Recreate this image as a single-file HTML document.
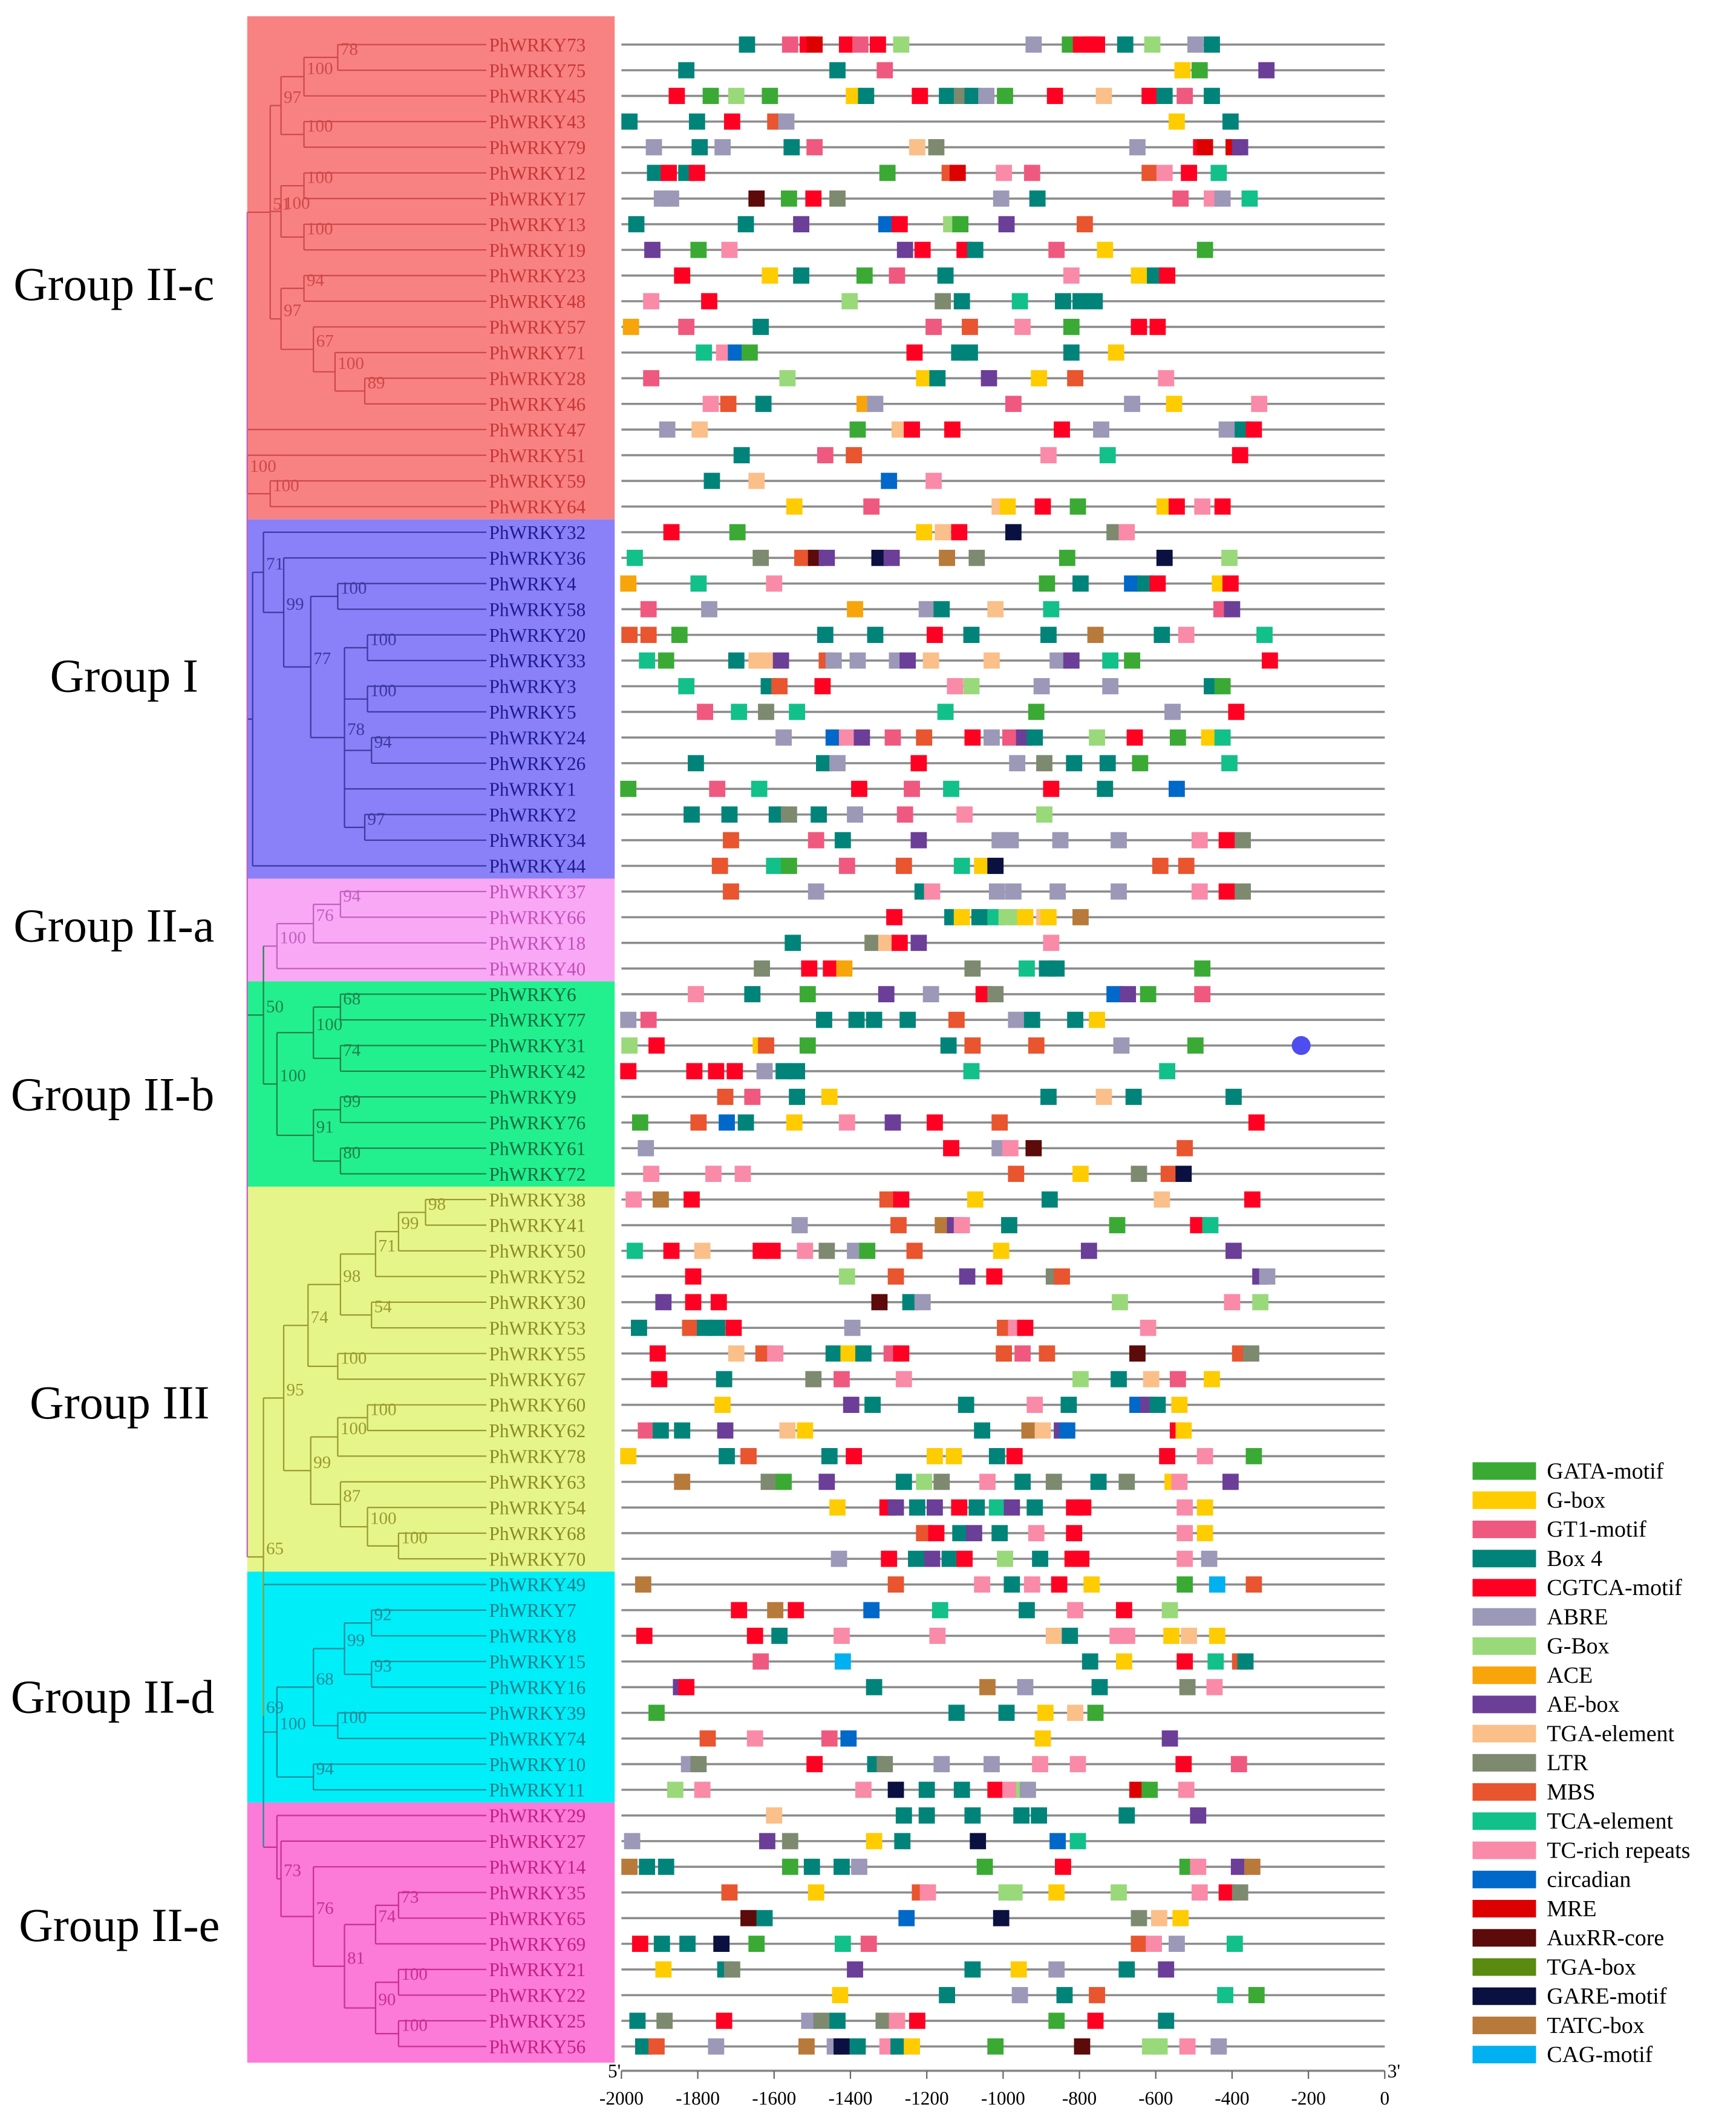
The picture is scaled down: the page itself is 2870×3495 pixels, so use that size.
<!DOCTYPE html>
<html><head><meta charset="utf-8">
<style>
html,body{margin:0;padding:0;background:#fff;}
svg{display:block;font-family:"Liberation Serif",serif;}
</style></head>
<body>
<svg id="chart" xmlns="http://www.w3.org/2000/svg" width="2870" height="3495" viewBox="0 0 1285 1565" preserveAspectRatio="none">
<g id="bands"></g>
<g id="tree"></g>
<g id="rows"></g>
<g id="axis"></g>
<g id="legend"></g>
</svg>
<script>
const genes=["73","75","45","43","79","12","17","13","19","23","48","57","71","28","46","47","51","59","64",
"32","36","4","58","20","33","3","5","24","26","1","2","34","44",
"37","66","18","40",
"6","77","31","42","9","76","61","72",
"38","41","50","52","30","53","55","67","60","62","78","63","54","68","70",
"49","7","8","15","16","39","74","10","11",
"29","27","14","35","65","69","21","22","25","56"];
const groupNames=["Group II-c","Group I","Group II-a","Group II-b","Group III","Group II-d","Group II-e"];
const groupStart=[0,19,33,37,45,60,69];
const groupEnd=[18,32,36,44,59,68,78];
const motifNames=["GATA-motif","G-box","GT1-motif","Box 4","CGTCA-motif","ABRE","G-Box","ACE","AE-box","TGA-element","LTR","MBS","TCA-element","TC-rich repeats","circadian","MRE","AuxRR-core","TGA-box","GARE-motif","TATC-box","CAG-motif"];
const motifCodes=["GA","Gb","GT","B4","CG","AB","GB","AC","AE","TG","LT","MB","TC","TR","CI","MR","AU","TX","GR","TA","CA"];
const axisTicks=[-2000,-1800,-1600,-1400,-1200,-1000,-800,-600,-400,-200,0];
const motifs=[
[["B4",-1671],["GT",-1558],["CG",-1512],["MR",-1494],["CG",-1409],["GT",-1374],["CG",-1328],["GB",-1267],["AB",-920],["GA",-825],["CG",-796],["CG",-770],["CG",-754],["B4",-680],["GB",-609],["AB",-496],["B4",-453]],
[["B4",-1830],["B4",-1434],["GT",-1310],["Gb",-530],["GA",-485],["AE",-310]],
[["CG",-1855],["GA",-1766],["GB",-1699],["GA",-1611],["Gb",-1391],["B4",-1359],["CG",-1218],["B4",-1147],["LT",-1108],["B4",-1080],["AB",-1044],["GA",-995],["CG",-864],["TG",-736],["CG",-616],["B4",-577],["GT",-524],["B4",-453]],
[["B4",-1979],["B4",-1802],["CG",-1710],["MB",-1597],["AB",-1568],["Gb",-545],["B4",-404]],
[["AB",-1915],["B4",-1795],["AB",-1735],["B4",-1554],["GT",-1494],["TG",-1225],["LT",-1175],["AB",-648],["CG",-481],["MR",-471],["MR",-396],["AE",-379]],
[["B4",-1912],["CG",-1876],["B4",-1830],["CG",-1802],["GA",-1303],["MB",-1140],["MR",-1119],["TR",-998],["GT",-924],["MB",-616],["TR",-577],["CG",-513],["TC",-435]],
[["AB",-1894],["AB",-1870],["AU",-1646],["GA",-1561],["CG",-1497],["LT",-1434],["AB",-1005],["B4",-910],["GT",-535],["TR",-453],["AB",-425],["TC",-354]],
[["B4",-1961],["B4",-1674],["AE",-1529],["CI",-1306],["CG",-1271],["GB",-1136],["GA",-1112],["AE",-991],["MB",-786]],
[["AE",-1919],["GA",-1798],["TR",-1717],["AE",-1257],["CG",-1211],["CG",-1101],["B4",-1073],["GT",-860],["Gb",-733],["GA",-471]],
[["CG",-1841],["Gb",-1611],["B4",-1529],["GA",-1363],["GT",-1278],["B4",-1151],["TR",-821],["Gb",-644],["B4",-602],["CG",-570]],
[["TR",-1922],["CG",-1770],["GB",-1402],["LT",-1158],["B4",-1108],["TC",-956],["B4",-843],["B4",-797],["B4",-760]],
[["AC",-1975],["GT",-1830],["B4",-1635],["GT",-1182],["MB",-1087],["TR",-949],["GA",-821],["CG",-644],["CG",-595]],
[["TC",-1784],["TR",-1731],["CI",-1700],["GA",-1664],["CG",-1232],["B4",-1115],["B4",-1087],["B4",-821],["Gb",-704]],
[["GT",-1922],["GB",-1565],["Gb",-1207],["B4",-1172],["AE",-1037],["Gb",-906],["MB",-811],["TR",-573]],
[["TR",-1766],["MB",-1720],["B4",-1628],["AC",-1363],["AB",-1335],["GT",-973],["AB",-662],["Gb",-552],["TR",-329]],
[["AB",-1880],["TG",-1795],["GA",-1381],["TG",-1271],["CG",-1239],["CG",-1133],["CG",-846],["AB",-743],["AB",-414],["B4",-372],["CG",-343]],
[["B4",-1685],["GT",-1466],["MB",-1391],["TR",-881],["TC",-726],["CG",-379]],
[["B4",-1763],["TG",-1646],["CI",-1299],["TR",-1182]],
[["Gb",-1547],["GT",-1345],["TG",-1009],["Gb",-988],["CG",-896],["GA",-804],["Gb",-577],["CG",-545],["TR",-478],["CG",-425]],
[["CG",-1869],["GA",-1696],["Gb",-1207],["TG",-1158],["CG",-1115],["GR",-973],["LT",-708],["TR",-676]],
[["TC",-1965],["LT",-1635],["MB",-1526],["AU",-1490],["AE",-1462],["GR",-1324],["AE",-1292],["TA",-1147],["LT",-1069],["GA",-832],["GR",-577],["GB",-407]],
[["AC",-1982],["TC",-1798],["TR",-1600],["GA",-885],["B4",-797],["CI",-662],["B4",-627],["CG",-595],["Gb",-432],["CG",-404]],
[["GT",-1929],["AB",-1770],["AC",-1388],["AB",-1200],["B4",-1161],["TG",-1020],["TC",-874],["GT",-428],["AE",-400]],
[["MB",-1979],["MB",-1929],["GA",-1848],["B4",-1466],["B4",-1335],["CG",-1179],["B4",-1083],["B4",-881],["TA",-758],["B4",-584],["TR",-520],["TC",-315]],
[["TC",-1933],["GA",-1883],["B4",-1699],["TG",-1646],["TG",-1615],["AE",-1582],["MB",-1462],["AB",-1444],["AB",-1381],["AB",-1278],["AE",-1250],["TG",-1189],["TG",-1030],["AB",-857],["AE",-821],["TC",-719],["GA",-662],["CG",-301]],
[["TC",-1830],["B4",-1614],["MB",-1586],["CG",-1473],["TR",-1126],["GB",-1083],["AB",-899],["AB",-719],["B4",-453],["GA",-425]],
[["GT",-1781],["TC",-1692],["LT",-1621],["TC",-1540],["TC",-1151],["GA",-913],["AB",-556],["CG",-389]],
[["AB",-1575],["CI",-1444],["TR",-1409],["AE",-1370],["GT",-1289],["MB",-1207],["CG",-1080],["AB",-1030],["GT",-981],["AE",-945],["B4",-917],["GB",-754],["CG",-655],["GA",-542],["Gb",-460],["TC",-425]],
[["B4",-1805],["B4",-1469],["AB",-1434],["CG",-1221],["AB",-963],["LT",-892],["B4",-814],["B4",-726],["GA",-641],["TC",-407]],
[["GA",-1982],["GT",-1749],["TC",-1639],["CG",-1377],["GT",-1239],["TC",-1136],["CG",-874],["B4",-733],["CI",-545]],
[["B4",-1816],["B4",-1717],["B4",-1593],["LT",-1561],["B4",-1483],["AB",-1388],["GT",-1257],["TR",-1101],["GB",-892]],
[["MB",-1713],["GT",-1490],["B4",-1420],["AE",-1221],["AB",-1009],["AB",-980],["AB",-850],["AB",-697],["TR",-485],["CG",-414],["LT",-372]],
[["MB",-1742],["TC",-1600],["GA",-1561],["GT",-1409],["MB",-1260],["TC",-1108],["Gb",-1055],["GR",-1020],["MB",-588],["MB",-520]],
[["MB",-1713],["AB",-1490],["B4",-1211],["TR",-1186],["AB",-1016],["AB",-973],["AB",-857],["AB",-697],["TR",-485],["CG",-414],["LT",-372]],
[["CG",-1285],["B4",-1133],["Gb",-1108],["B4",-1062],["TC",-1020],["GB",-991],["GB",-959],["Gb",-942],["TG",-892],["Gb",-881],["TA",-797]],
[["B4",-1551],["LT",-1342],["TG",-1306],["CG",-1271],["AE",-1221],["TR",-874]],
[["LT",-1632],["CG",-1508],["CG",-1451],["AC",-1416],["LT",-1080],["TC",-938],["B4",-885],["B4",-860],["GA",-478]],
[["TR",-1805],["B4",-1657],["GA",-1512],["AE",-1306],["AB",-1189],["CG",-1051],["LT",-1020],["CI",-708],["AE",-673],["GA",-620],["GT",-478]],
[["AB",-1982],["GT",-1929],["B4",-1469],["B4",-1384],["B4",-1338],["B4",-1250],["MB",-1122],["AB",-966],["B4",-924],["B4",-811],["Gb",-754]],
[["GB",-1979],["CG",-1908],["Gb",-1635],["MB",-1621],["GA",-1512],["B4",-1143],["MB",-1080],["MB",-913],["AB",-690],["GA",-496],["XX",-219]],
[["CG",-1982],["CG",-1809],["CG",-1752],["CG",-1703],["AB",-1625],["B4",-1575],["B4",-1540],["TC",-1083],["TC",-570]],
[["MB",-1728],["GT",-1657],["B4",-1540],["Gb",-1455],["B4",-881],["TG",-736],["B4",-658],["B4",-396]],
[["GA",-1951],["MB",-1798],["CI",-1724],["B4",-1674],["Gb",-1547],["TR",-1409],["AE",-1289],["CG",-1179],["MB",-1009],["CG",-336]],
[["AB",-1936],["CG",-1136],["AB",-1009],["TR",-981],["AU",-920],["MB",-524]],
[["TR",-1922],["TR",-1759],["TR",-1682],["MB",-966],["Gb",-797],["LT",-644],["MB",-566],["GR",-527]],
[["TR",-1968],["TA",-1897],["CG",-1816],["MB",-1303],["CG",-1267],["Gb",-1073],["B4",-878],["TG",-584],["CG",-347]],
[["AB",-1533],["MB",-1274],["TA",-1158],["AE",-1126],["TR",-1108],["B4",-984],["GA",-701],["CG",-489],["TC",-457]],
[["TC",-1965],["CG",-1869],["TG",-1788],["CG",-1635],["CG",-1604],["TR",-1519],["LT",-1462],["AB",-1388],["GA",-1356],["MB",-1232],["Gb",-1005],["AE",-775],["AE",-396]],
[["CG",-1812],["GB",-1409],["MB",-1281],["AE",-1094],["CG",-1023],["LT",-867],["MB",-846],["AE",-326],["AB",-308]],
[["AE",-1890],["CG",-1812],["CG",-1745],["AU",-1324],["B4",-1243],["AB",-1211],["GB",-694],["TR",-400],["GB",-326]],
[["B4",-1954],["MB",-1820],["B4",-1781],["B4",-1749],["CG",-1706],["AB",-1395],["MB",-995],["TR",-966],["CG",-942],["TR",-620]],
[["CG",-1905],["TG",-1699],["MB",-1628],["TR",-1597],["B4",-1444],["Gb",-1405],["B4",-1366],["GT",-1292],["CG",-1267],["MB",-998],["GT",-949],["MB",-885],["AU",-648],["MB",-379],["LT",-350]],
[["CG",-1901],["B4",-1731],["LT",-1497],["GT",-1423],["TR",-1260],["GB",-797],["B4",-697],["TG",-612],["GT",-542],["Gb",-453]],
[["Gb",-1735],["AE",-1398],["B4",-1342],["B4",-1097],["TR",-917],["B4",-828],["CI",-648],["AE",-620],["B4",-595],["Gb",-538]],
[["GT",-1936],["B4",-1897],["B4",-1841],["AE",-1728],["TG",-1565],["Gb",-1519],["B4",-1055],["TA",-931],["TG",-896],["AE",-846],["CI",-832],["CG",-542],["Gb",-527]],
[["Gb",-1982],["B4",-1724],["MB",-1667],["B4",-1455],["CG",-1391],["Gb",-1179],["Gb",-1129],["B4",-1016],["CG",-970],["CG",-570],["TR",-471],["GA",-343]],
[["TA",-1841],["LT",-1614],["GA",-1575],["AE",-1462],["B4",-1260],["GB",-1207],["LT",-1161],["TR",-1041],["B4",-949],["LT",-867],["B4",-750],["LT",-676],["Gb",-556],["TR",-538],["AE",-404]],
[["Gb",-1434],["CG",-1303],["AE",-1281],["B4",-1225],["AE",-1179],["CG",-1115],["B4",-1069],["TC",-1016],["AE",-977],["B4",-917],["CG",-814],["CG",-790],["TR",-524],["Gb",-471]],
[["MB",-1207],["CG",-1175],["B4",-1112],["AE",-1076],["B4",-1009],["TR",-913],["CG",-814],["TR",-524],["Gb",-471]],
[["AB",-1430],["CG",-1299],["B4",-1228],["AE",-1186],["B4",-1140],["CG",-1101],["GB",-995],["B4",-903],["CG",-818],["CG",-795],["TR",-524],["AB",-460]],
[["TA",-1943],["MB",-1281],["TR",-1055],["B4",-977],["TR",-924],["CG",-853],["Gb",-768],["GA",-524],["CA",-439],["MB",-343]],
[["CG",-1692],["TA",-1597],["CG",-1543],["CI",-1345],["TC",-1165],["B4",-938],["TR",-811],["CG",-683],["GB",-563]],
[["CG",-1940],["CG",-1650],["B4",-1586],["TR",-1423],["TR",-1172],["TG",-867],["B4",-825],["TR",-700],["TR",-675],["Gb",-559],["TG",-513],["Gb",-439]],
[["GT",-1635],["CA",-1420],["B4",-772],["Gb",-683],["CG",-524],["TC",-443],["MB",-379],["B4",-365]],
[["AE",-1844],["CG",-1830],["B4",-1338],["TA",-1041],["AB",-942],["B4",-747],["LT",-517],["TR",-446]],
[["GA",-1908],["B4",-1122],["B4",-991],["Gb",-889],["TG",-811],["GA",-758]],
[["MB",-1774],["TR",-1650],["GT",-1455],["CI",-1405],["Gb",-896],["AE",-563]],
[["AB",-1823],["LT",-1798],["CG",-1494],["B4",-1335],["LT",-1310],["AB",-1161],["AB",-1030],["TR",-903],["TR",-804],["CG",-527],["GT",-382]],
[["GB",-1859],["TR",-1788],["TR",-1366],["GR",-1281],["B4",-1200],["B4",-1108],["CG",-1020],["TR",-981],["GB",-945],["AB",-935],["MR",-648],["GA",-616],["TR",-520]],
[["TG",-1600],["B4",-1260],["B4",-1200],["B4",-1080],["B4",-952],["B4",-906],["B4",-676],["AE",-489]],
[["AB",-1972],["AE",-1618],["LT",-1558],["Gb",-1338],["B4",-1264],["GR",-1066],["CI",-857],["TC",-804]],
[["TA",-1979],["B4",-1933],["B4",-1883],["GA",-1558],["B4",-1501],["B4",-1423],["AB",-1377],["GA",-1048],["CG",-843],["GA",-517],["TR",-489],["AE",-382],["TA",-347]],
[["MB",-1717],["Gb",-1490],["MB",-1218],["TR",-1197],["GB",-991],["GB",-970],["Gb",-860],["GB",-697],["TR",-485],["CG",-414],["LT",-379]],
[["AU",-1667],["B4",-1625],["CI",-1253],["GR",-1005],["LT",-644],["TG",-591],["Gb",-535]],
[["CG",-1951],["B4",-1894],["B4",-1827],["GR",-1738],["GA",-1646],["TC",-1420],["GT",-1352],["MB",-644],["TR",-605],["AB",-545],["TC",-393]],
[["Gb",-1890],["B4",-1728],["LT",-1710],["AE",-1388],["B4",-1080],["Gb",-959],["AB",-860],["B4",-676],["AE",-573]],
[["Gb",-1427],["B4",-1147],["AB",-956],["B4",-839],["MB",-754],["TC",-418],["GA",-336]],
[["B4",-1958],["LT",-1887],["CG",-1731],["AB",-1508],["LT",-1476],["B4",-1434],["LT",-1313],["TR",-1278],["CG",-1225],["GA",-860],["CG",-758],["B4",-573]],
[["B4",-1943],["MB",-1908],["AB",-1752],["TA",-1515],["AB",-1441],["GR",-1423],["B4",-1381],["TR",-1303],["B4",-1274],["Gb",-1239],["GA",-1020],["AU",-793],["GB",-615],["GB",-590],["TR",-517],["AB",-435]]
];
const motifColors={GA:"#3aaa35",Gb:"#ffcc00",GT:"#f0597f",B4:"#00847a",CG:"#ff0022",AB:"#9b98b8",GB:"#99d97a",AC:"#f7a50a",AE:"#6b3e98",TG:"#fbbf8a",LT:"#7d8a70",MB:"#e8552f",TC:"#12c08a",TR:"#f98ba8",CI:"#0068c8",MR:"#dd0000",AU:"#5c0a0a",TX:"#5a8a10",GR:"#0a1040",TA:"#b87a3a",CA:"#00b0f0"};
const bandBg=["#f88282","#8a80f8","#f9a8f5","#22f08e","#e6f58a","#00eef8","#fc7ad8"];
const textFg=["#c83636","#1c1c8c","#c050b8","#0e6a3e","#8a8a28","#0e7e8a","#c02080"];
const lineFg=["#d04848","#3a3aa0","#c060c0","#20804a","#9a9a30","#208a98","#c83090"];
const groupLabelPos=[[10,222],[37,512],[10,697],[8,822],[22,1050],[8,1268],[14,1437]];

const NS="http://www.w3.org/2000/svg";
const X0=460,X1=1025;
function X(bp){return X1+(bp/2000)*(X1-X0);}
function Y(i){return 33+i*19;}
function mk(tag,attrs,parent){const e=document.createElementNS(NS,tag);for(const k in attrs)e.setAttribute(k,attrs[k]);parent.appendChild(e);return e;}
function groupOf(i){for(let g=0;g<groupStart.length;g++){if(i>=groupStart[g]&&i<=groupEnd[g])return g;}return 0;}

// bands & group labels
const bands=document.getElementById('bands');
for(let g=0;g<groupNames.length;g++){
  const top=groupStart[g]===0?12:Y(groupStart[g])-9.5;
  const bot=groupEnd[g]===78?1527:Y(groupEnd[g])+9.5;
  const r=mk('rect',{x:183,y:top,width:272,height:bot-top,fill:bandBg[g]},bands);
  
  
  const t=mk('text',{x:groupLabelPos[g][0],y:groupLabelPos[g][1],'font-size':35,fill:'#000'},bands);
  t.textContent=groupNames[g];
  
  
}

// tree
const TREE=[183,"",[
 [200,"51",[[208,"97",[[225,"100",[[250,"78",[0,1]],2]],[225,"100",[3,4]]]],[208,"100",[[225,"100",[5,6]],[225,"100",[7,8]]]],[208,"97",[[225,"94",[9,10]],[232,"67",[11,[248,"100",[12,[270,"89",[13,14]]]]]]]]]],
 15,
 [183,"100",[16,[200,"100",[17,18]]]],
 [187,"",[[195,"71",[19,[210,"99",[20,[230,"77",[[250,"100",[21,22]],[255,"78",[[272,"100",[23,24]],[272,"100",[25,26]],[275,"94",[27,28]],29,[270,"97",[30,31]]]]]]]]]],32]],
 [195,"50",[[205,"100",[[232,"76",[[252,"94",[33,34]],35]],36]],[205,"100",[[232,"100",[[252,"68",[37,38]],[252,"74",[39,40]]]],[232,"91",[[252,"99",[41,42]],[252,"80",[43,44]]]]]]]],
 [195,"65",[[210,"95",[[228,"74",[[252,"98",[[278,"71",[[295,"99",[[315,"98",[45,46]],47]],48]],[275,"54",[49,50]]]],[250,"100",[51,52]]]],[230,"99",[[250,"100",[[272,"100",[53,54]],55]],[252,"87",[56,[272,"100",[57,[295,"100",[58,59]]]]]]]]]],
   [195,"69",[60,[205,"100",[[232,"68",[[255,"99",[[275,"92",[61,62]],[275,"93",[63,64]]]],[250,"100",[65,66]]]],[232,"94",[67,68]]]],
     [205,"",[69,[208,"73",[70,[232,"76",[71,[255,"81",[[278,"74",[[295,"73",[72,73]],74]],[278,"90",[[295,"100",[75,76]],[295,"100",[77,78]]]]]]]]]]]]]]]]
]];
const tree=document.getElementById('tree');
function colAt(y){let best=0;for(let g=0;g<groupStart.length;g++){if(y>=Y(groupStart[g])-10)best=g;}return lineFg[best];}
function drawNode(n){
  if(typeof n==='number')return {x:360,y:Y(n),lo:Y(n),hi:Y(n)};
  const kids=n[2].map(drawNode);
  const y1=kids[0].y,y2=kids[kids.length-1].y,mid=(y1+y2)/2;
  kids.forEach(k=>{
    const l=mk('line',{x1:n[0],y1:k.y,x2:k.x,y2:k.y,stroke:colAt(k.y),'stroke-width':1},tree);
    
    
  });
  const v=mk('line',{x1:n[0],y1:y1,x2:n[0],y2:y2,stroke:colAt(mid),'stroke-width':1},tree);
  
  
  if(n[1]){
    const t=mk('text',{x:n[0]+2,y:mid-2,'font-size':13,fill:colAt(mid)},tree);
    t.textContent=n[1];
    
    
  }
  return {x:n[0],y:mid};
}
drawNode(TREE);

// rows
const rows=document.getElementById('rows');
for(let i=0;i<genes.length;i++){
  const g=groupOf(i),y=Y(i);
  const lab=mk('text',{x:362,y:y+5,'font-size':14,fill:textFg[g]},rows);
  lab.textContent='PhWRKY'+genes[i];
  
  
  const ln=mk('line',{x1:X(-2000),y1:y,x2:X(0),y2:y,stroke:'#8c8c8c','stroke-width':1.6},rows);
  
  
  (motifs[i]||[]).forEach(m=>{
    if(m[0]==='XX'){
      const c=mk('circle',{cx:X(m[1]),cy:y,r:7,fill:'#4d4df0'},rows);
      
      
      return;
    }
    const r=mk('rect',{x:X(m[1])-6,y:y-6,width:12,height:12,fill:motifColors[m[0]]||'#999'},rows);
    
    
  });
}

// axis
const axis=document.getElementById('axis');
const al=mk('line',{x1:X(-2000),y1:1533,x2:X(0),y2:1533,stroke:'#888','stroke-width':1.6},axis);


axisTicks.forEach(v=>{
  const tk=mk('line',{x1:X(v),y1:1533,x2:X(v),y2:1539,stroke:'#666','stroke-width':1},axis);
  
  
  const t=mk('text',{x:X(v),y:1558,'font-size':14,'text-anchor':'middle',fill:'#000'},axis);
  t.textContent=String(v);
  
  
});
const p5=mk('text',{x:450,y:1538,'font-size':14,fill:'#000'},axis);
p5.textContent="5'";


const p3=mk('text',{x:1027,y:1538,'font-size':14,fill:'#000'},axis);
p3.textContent="3'";



// legend
const legend=document.getElementById('legend');
for(let k=0;k<motifNames.length;k++){
  const y=1089+k*21.6;
  const sw=mk('rect',{x:1090,y:y-6.5,width:47,height:13,fill:motifColors[motifCodes[k]]},legend);
  
  
  const t=mk('text',{x:1145,y:y+5.5,'font-size':17,fill:'#000'},legend);
  t.textContent=motifNames[k];
  
  
}
</script>
</body></html>
